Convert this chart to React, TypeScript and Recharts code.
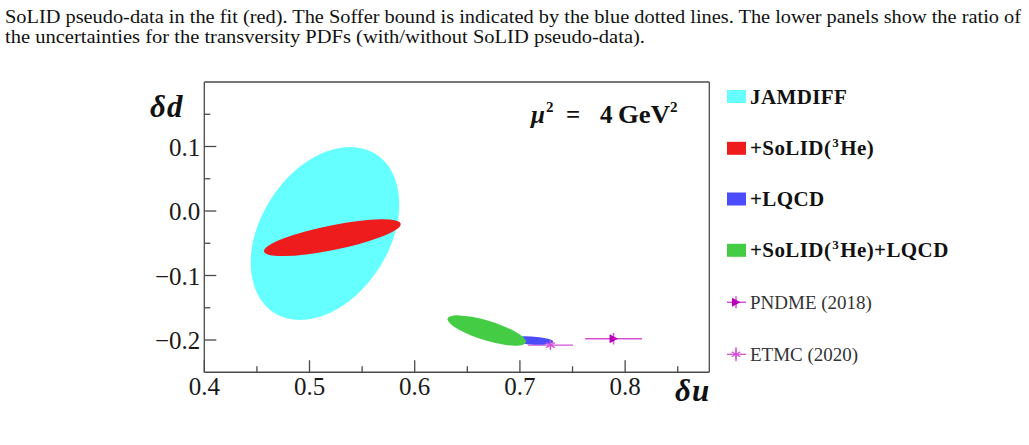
import React from 'react';
import { ScatterChart, Scatter, XAxis, YAxis, ErrorBar } from 'recharts';
import * as RAll from 'recharts';

// ---------- data ----------
const X_DOMAIN = [0.4, 0.88];
const Y_DOMAIN = [-0.25, 0.2];
const xTicks = [0.4, 0.45, 0.5, 0.55, 0.6, 0.65, 0.7, 0.75, 0.8, 0.85];
const xMajor = [0.4, 0.5, 0.6, 0.7, 0.8];
const xLabels = ['0.4', '0.5', '0.6', '0.7', '0.8'];
const yTicks = [-0.2, -0.15, -0.1, -0.05, 0, 0.05, 0.1, 0.15];
const yMajor = [-0.2, -0.1, 0, 0.1];
const yLabels = ['\u22120.2', '\u22120.1', '0.0', '0.1'];

// ellipses: center (x,y) and two conjugate half-diameters u, v (data units)
const jamdiff = [{ x: 0.5147, y: -0.0349, ux: 0.0238, uy: 0.1341, vx: 0.0665, vy: 0 }];
const solid = [{ x: 0.5217, y: -0.0414, ux: 0.065, uy: 0.0208, vx: 0, vy: 0.0194 }];
const lqcd = [{ x: 0.7108, y: -0.2008, ux: 0.0209, uy: -0.0019, vx: 0, vy: 0.0062 }];
const solidLqcd = [{ x: 0.6685, y: -0.1853, ux: 0.0373, uy: -0.0174, vx: 0, vy: 0.0158 }];

const pndme = [{ x: 0.789, y: -0.198, ex: 0.027, ey: 0.009 }];
const etmc = [{ x: 0.729, y: -0.208, ex: 0.0215, ey: 0.006 }];

const legendLabels = ['JAMDIFF', '+SoLID(3He)', '+LQCD', '+SoLID(3He)+LQCD', 'PNDME (2018)', 'ETMC (2020)'];

// ---------- style ----------
const FONT = '"Liberation Serif", "DejaVu Serif", serif';
const AXIS = '#4a4a4a';
const C_CYAN = '#66ffff';
const C_RED = '#ee1c1c';
const C_BLUE = '#4b4bff';
const C_GREEN = '#44cc44';
const C_MAG = '#b800b8';
const C_MAG_L = '#d650d6';

const W = 1029;
const H = 445;
const MARGIN = { top: 52, right: 289.7, bottom: 42.75, left: 174.3 };
const FALLBACK_PLOT = { x: 204.3, y: 82, width: 505, height: 290.25 };

const usePA: any = (RAll as any).usePlotArea;
function usePlot() {
  const pa = usePA ? usePA() : undefined;
  return pa && pa.width ? pa : FALLBACK_PLOT;
}

function EllipseShape(props: any) {
  const { cx, cy, payload, color } = props;
  const plot = usePlot();
  const kx = plot.width / (X_DOMAIN[1] - X_DOMAIN[0]);
  const ky = plot.height / (Y_DOMAIN[1] - Y_DOMAIN[0]);
  const a = payload.ux * kx;
  const b = -payload.uy * ky;
  const c = payload.vx * kx;
  const d = -payload.vy * ky;
  return <circle cx={0} cy={0} r={1} transform={`matrix(${a} ${b} ${c} ${d} ${cx} ${cy})`} fill={color} />;
}

const isIn = (arr: number[], v: number) => arr.findIndex((m) => Math.abs(m - v) < 1e-9);

function XTick(props: any) {
  const { x, y, payload, side } = props;
  const idx = isIn(xMajor, payload.value);
  const len = idx >= 0 ? 12 : 6;
  const dir = side === 'bottom' ? -1 : 1;
  return (
    <g>
      <line x1={x} x2={x} y1={y} y2={y + dir * len} stroke={AXIS} strokeWidth={1.3} />
      {side === 'bottom' && idx >= 0 && (
        <text x={x} y={y + 22.5} textAnchor="middle" fontFamily={FONT} fontSize={25} fill="#1a1a1a">
          {xLabels[idx]}
        </text>
      )}
    </g>
  );
}

function YTick(props: any) {
  const { x, y, payload, side } = props;
  const idx = isIn(yMajor, payload.value);
  const len = idx >= 0 ? 12 : 6;
  const dir = side === 'left' ? 1 : -1;
  return (
    <g>
      <line x1={x} x2={x + dir * len} y1={y} y2={y} stroke={AXIS} strokeWidth={1.3} />
      {side === 'left' && idx >= 0 && (
        <text x={x - 4} y={y + 9} textAnchor="end" fontFamily={FONT} fontSize={25} fill="#1a1a1a">
          {yLabels[idx]}
        </text>
      )}
    </g>
  );
}

function TriangleShape(props: any) {
  const { cx, cy } = props;
  return <path d={`M${cx - 4},${cy - 4.5} L${cx + 4.5},${cy} L${cx - 4},${cy + 4.5} Z`} fill={C_MAG} />;
}

function StarShape(props: any) {
  const { cx, cy } = props;
  const r = 5;
  const angs = [90, 30, 150];
  return (
    <g stroke={C_MAG_L} strokeWidth={1.3}>
      {angs.map((a) => {
        const dx = r * Math.cos((a * Math.PI) / 180);
        const dy = r * Math.sin((a * Math.PI) / 180);
        return <line key={a} x1={cx - dx} y1={cy - dy} x2={cx + dx} y2={cy + dy} />;
      })}
    </g>
  );
}

function Legend() {
  const centers = [96.5, 148.3, 199, 250.3, 302.3, 354.3];
  const colors = [C_CYAN, C_RED, C_BLUE, C_GREEN];
  const boldStyle = { fontFamily: FONT, fontSize: 21, fontWeight: 700, fill: '#111', letterSpacing: 0.4 } as any;
  const normStyle = { fontFamily: FONT, fontSize: 19, fill: '#333' } as any;
  const renderLabel = (s: string, cy: number, style: any) => {
    const parts = s.split('3He');
    if (parts.length === 1) {
      return <text x={750} y={cy + 7} style={style}>{s}</text>;
    }
    return (
      <text x={750} y={cy + 7} style={style}>
        {parts[0]}
        <tspan dx={1} dy={-8} fontSize={13}>3</tspan>
        <tspan dx={1} dy={8}>He{parts[1]}</tspan>
      </text>
    );
  };
  return (
    <g>
      {centers.map((cy, i) => (
        <g key={i}>
          {i < 4 && <rect x={727} y={cy - 6.5} width={19} height={13} fill={colors[i]} />}
          {i === 4 && (
            <g>
              <line x1={727} x2={746} y1={cy} y2={cy} stroke={C_MAG_L} strokeWidth={1.5} />
              <line x1={736} x2={736} y1={cy - 6} y2={cy + 6} stroke={C_MAG_L} strokeWidth={1.5} />
              <TriangleShape cx={736} cy={cy} />
            </g>
          )}
          {i === 5 && (
            <g>
              <line x1={727} x2={746} y1={cy} y2={cy} stroke={C_MAG_L} strokeWidth={1.3} />
              <line x1={736} x2={736} y1={cy - 7} y2={cy + 7} stroke={C_MAG_L} strokeWidth={1.3} />
              <StarShape cx={736} cy={cy} />
            </g>
          )}
          {renderLabel(legendLabels[i], cy, i < 4 ? boldStyle : normStyle)}
        </g>
      ))}
    </g>
  );
}

export default function App() {
  return (
    <div style={{ position: 'absolute', left: 0, top: 0, width: W, height: H, background: '#fff', overflow: 'hidden' }}>
      <div style={{ position: 'absolute', left: 0, top: 0 }}>
        <ScatterChart width={W} height={H} margin={MARGIN}>
          <XAxis
            xAxisId={0}
            dataKey="x"
            type="number"
            orientation="bottom"
            domain={X_DOMAIN}
            ticks={xTicks}
            interval={0}
            height={30}
            tickSize={0}
            tickMargin={0}
            tickLine={false}
            axisLine={{ stroke: AXIS, strokeWidth: 1.3 }}
            tick={(p: any) => <XTick {...p} side="bottom" />}
          />
          <XAxis
            xAxisId="top"
            dataKey="x"
            type="number"
            orientation="top"
            domain={X_DOMAIN}
            ticks={xTicks}
            interval={0}
            height={30}
            tickSize={0}
            tickMargin={0}
            tickLine={false}
            axisLine={{ stroke: AXIS, strokeWidth: 1.3 }}
            tick={(p: any) => <XTick {...p} side="top" />}
          />
          <YAxis
            yAxisId={0}
            dataKey="y"
            type="number"
            orientation="left"
            domain={Y_DOMAIN}
            ticks={yTicks}
            interval={0}
            width={30}
            tickSize={0}
            tickMargin={0}
            tickLine={false}
            axisLine={{ stroke: AXIS, strokeWidth: 1.3 }}
            tick={(p: any) => <YTick {...p} side="left" />}
          />
          <YAxis
            yAxisId="right"
            dataKey="y"
            type="number"
            orientation="right"
            domain={Y_DOMAIN}
            ticks={yTicks}
            interval={0}
            width={30}
            tickSize={0}
            tickMargin={0}
            tickLine={false}
            axisLine={{ stroke: AXIS, strokeWidth: 1.3 }}
            tick={(p: any) => <YTick {...p} side="right" />}
          />
          <Scatter data={jamdiff} isAnimationActive={false} shape={(p: any) => <EllipseShape {...p} color={C_CYAN} />} />
          <Scatter data={solid} isAnimationActive={false} shape={(p: any) => <EllipseShape {...p} color={C_RED} />} />
          <Scatter data={lqcd} isAnimationActive={false} shape={(p: any) => <EllipseShape {...p} color={C_BLUE} />} />
          <Scatter data={solidLqcd} isAnimationActive={false} shape={(p: any) => <EllipseShape {...p} color={C_GREEN} />} />
          <Scatter data={etmc} isAnimationActive={false} shape={(p: any) => <StarShape {...p} />}>
            <ErrorBar dataKey="ex" direction="x" width={0} stroke={C_MAG_L} strokeWidth={1.3} isAnimationActive={false} />
            <ErrorBar dataKey="ey" direction="y" width={0} stroke={C_MAG_L} strokeWidth={1.3} isAnimationActive={false} />
          </Scatter>
          <Scatter data={pndme} isAnimationActive={false} shape={(p: any) => <TriangleShape {...p} />}>
            <ErrorBar dataKey="ex" direction="x" width={0} stroke={C_MAG_L} strokeWidth={1.5} isAnimationActive={false} />
            <ErrorBar dataKey="ey" direction="y" width={0} stroke={C_MAG_L} strokeWidth={1.5} isAnimationActive={false} />
          </Scatter>
        </ScatterChart>
      </div>
      <svg width={W} height={H} style={{ position: 'absolute', left: 0, top: 0, pointerEvents: 'none' }}>
        <text x={5} y={23} fontFamily={FONT} fontSize={18} fill="#111" textLength={1016} lengthAdjust="spacingAndGlyphs">
          SoLID pseudo-data in the fit (red). The Soffer bound is indicated by the blue dotted lines. The lower panels show the ratio of
        </text>
        <text x={5} y={43} fontFamily={FONT} fontSize={18} fill="#111" textLength={640} lengthAdjust="spacingAndGlyphs">
          the uncertainties for the transversity PDFs (with/without SoLID pseudo-data).
        </text>
        <text x={150} y={117} fontFamily={FONT} fontSize={31} fontWeight={700} fontStyle="italic" fill="#111" letterSpacing={1}>
          δd
        </text>
        <text x={675} y={401} fontFamily={FONT} fontSize={31} fontWeight={700} fontStyle="italic" fill="#111" letterSpacing={1}>
          δu
        </text>
        <g fontFamily={FONT} fontWeight={700} fill="#111">
          <text x={531} y={123} fontSize={25} fontStyle="italic">μ</text>
          <text x={546} y={112} fontSize={15}>2</text>
          <text x={566} y={123} fontSize={25}>=</text>
          <text x={600} y={123} fontSize={25}>4</text>
          <text x={618} y={123} fontSize={25} textLength={52} lengthAdjust="spacingAndGlyphs">GeV</text>
          <text x={670} y={112} fontSize={15}>2</text>
        </g>
        <Legend />
      </svg>
    </div>
  );
}
